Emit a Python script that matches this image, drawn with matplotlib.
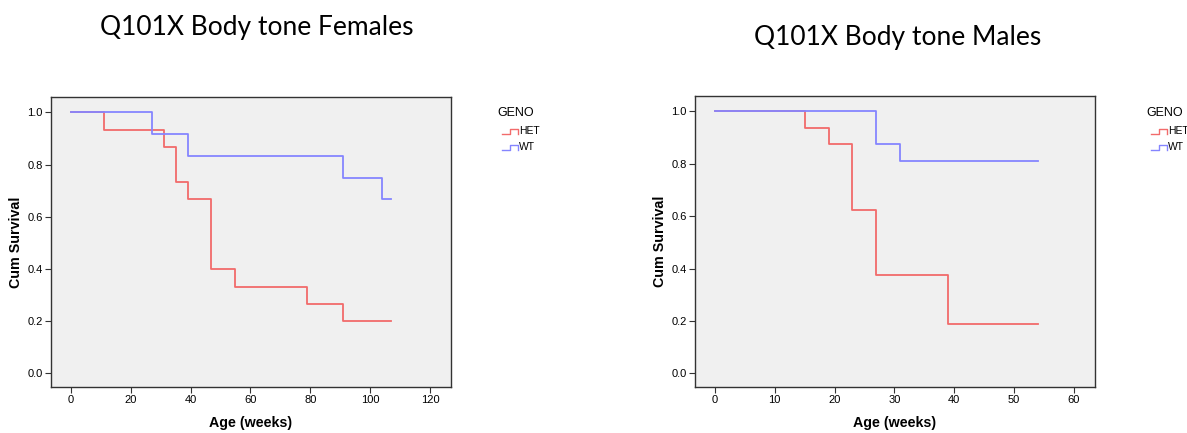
import matplotlib.pyplot as plt
from matplotlib.lines import Line2D

plt.rcParams['font.family'] = ['Liberation Sans', 'DejaVu Sans']

# Kaplan-Meier steps (age in weeks, cumulative survival)
fem_het_age = [0, 11, 31, 35, 39, 47, 55, 79, 91, 107]
fem_het_surv = [1.0, 0.933, 0.867, 0.733, 0.667, 0.400, 0.333, 0.267, 0.200, 0.200]
fem_wt_age = [0, 27, 39, 91, 104, 107]
fem_wt_surv = [1.0, 0.917, 0.833, 0.750, 0.667, 0.667]

male_het_age = [0, 15, 19, 23, 27, 39, 54]
male_het_surv = [1.0, 0.9375, 0.875, 0.625, 0.375, 0.1875, 0.1875]
male_wt_age = [0, 27, 31, 54]
male_wt_surv = [1.0, 0.875, 0.8125, 0.8125]

groups = ["HET", "WT"]
het_color = "#f26b6b"
wt_color = "#8585ff"

W, H = 1187, 433
fig = plt.figure(figsize=(W / 100, H / 100), dpi=100)


def px_axes(x0, y0, x1, y1):
    return fig.add_axes([x0 / W, 1 - y1 / H, (x1 - x0) / W, (y1 - y0) / H])


def draw_km(ax, het_x, het_y, wt_x, wt_y, xlim, xticks):
    ax.set_facecolor("#f0f0f0")
    ax.step(het_x, het_y, where="post", color=het_color, lw=1.3)
    ax.step(wt_x, wt_y, where="post", color=wt_color, lw=1.3)
    ax.set_xlim(*xlim)
    ax.set_ylim(-0.052, 1.059)
    ax.set_xticks(xticks)
    ax.set_yticks([0.0, 0.2, 0.4, 0.6, 0.8, 1.0])
    ax.set_yticklabels(["0.0", "0.2", "0.4", "0.6", "0.8", "1.0"])
    ax.tick_params(labelsize=8, length=4, width=0.8, color="#333333", pad=2)
    for s in ax.spines.values():
        s.set_color("#333333")
        s.set_linewidth(1.0)
    ax.set_xlabel("Age (weeks)", fontsize=10.3, fontweight="bold", labelpad=8)
    ax.set_ylabel("Cum Survival", fontsize=10.3, fontweight="bold", labelpad=3)


def legend(x, y):
    fig.text(x / W, 1 - y / H, "GENO", fontsize=9, va="center", ha="left")
    for i, (name, c) in enumerate(zip(groups, [het_color, wt_color])):
        yy = y + 18 + i * 16
        xs = [x + 5, x + 13, x + 13, x + 21, x + 21]
        ys = [yy + 3, yy + 3, yy - 2, yy - 2, yy + 3]
        fig.add_artist(Line2D([v / W for v in xs], [1 - v / H for v in ys],
                              color=c, lw=1.0, transform=fig.transFigure))
        fig.text((x + 22) / W, 1 - yy / H, name, fontsize=7.5, va="center", ha="left")


ax1 = px_axes(51, 97, 451, 387)
draw_km(ax1, fem_het_age, fem_het_surv, fem_wt_age, fem_wt_surv,
        (-6.6, 127), [0, 20, 40, 60, 80, 100, 120])
ax2 = px_axes(695, 96, 1095, 387)
draw_km(ax2, male_het_age, male_het_surv, male_wt_age, male_wt_surv,
        (-3.3, 63.5), [0, 10, 20, 30, 40, 50, 60])

fig.text(257 / W, 1 - 27 / H, "Q101X Body tone Females", fontsize=19,
         family="Lato", ha="center", va="center")
fig.text(898 / W, 1 - 38 / H, "Q101X Body tone Males", fontsize=19,
         family="Lato", ha="center", va="center")

legend(497, 113)
legend(1146, 113)

fig.savefig("out.png", dpi=100)
